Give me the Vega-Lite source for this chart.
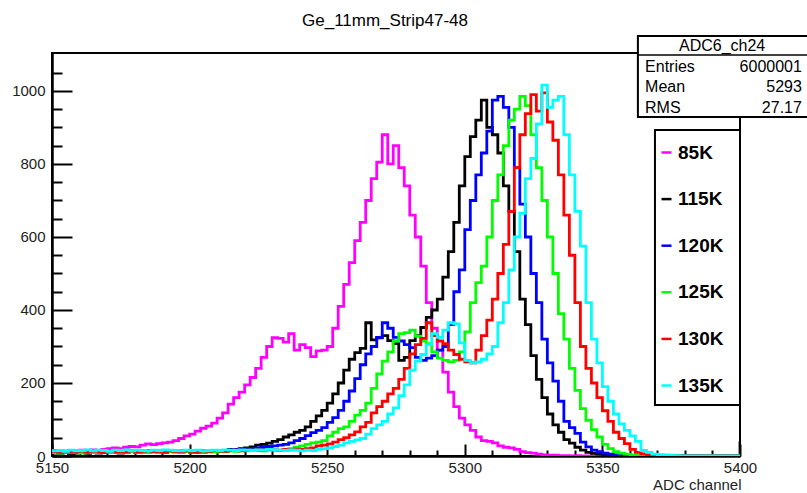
{
"$schema":"https://vega.github.io/schema/vega-lite/v6.json",
"width":688,"height":403,
"autosize":{"type":"none"},
"padding":{"left":52,"top":53,"right":67,"bottom":37},
"background":"white",
"title":{"text":"Ge_11mm_Strip47-48","font":"Liberation Sans","fontSize":17,"fontWeight":"normal","color":"black","anchor":"middle","dx":-11,"dy":13,"baseline":"alphabetic","offset":5},
"config":{"view":{"stroke":"black","strokeWidth":2},"axis":{"grid":false}},
"resolve":{"axis":{"x":"independent","y":"independent"}},
"layer":[
{"data":{"values":[
{"x":5150,"85K":15,"115K":8,"120K":10,"125K":9,"130K":12,"135K":14},
{"x":5152,"85K":14,"115K":7,"120K":12,"125K":8,"130K":10,"135K":15},
{"x":5154,"85K":12,"115K":9,"120K":9,"125K":10,"130K":13,"135K":13},
{"x":5156,"85K":15,"115K":6,"120K":11,"125K":9,"130K":11,"135K":16},
{"x":5158,"85K":13,"115K":8,"120K":13,"125K":11,"130K":12,"135K":14},
{"x":5160,"85K":16,"115K":10,"120K":10,"125K":8,"130K":14,"135K":15},
{"x":5162,"85K":14,"115K":7,"120K":12,"125K":10,"130K":11,"135K":17},
{"x":5164,"85K":17,"115K":9,"120K":11,"125K":9,"130K":13,"135K":14},
{"x":5166,"85K":15,"115K":8,"120K":14,"125K":10,"130K":12,"135K":16},
{"x":5168,"85K":18,"115K":10,"120K":12,"125K":12,"130K":10,"135K":15},
{"x":5170,"85K":20,"115K":9,"120K":13,"125K":9,"130K":14,"135K":13},
{"x":5172,"85K":22,"115K":11,"120K":11,"125K":11,"130K":12,"135K":16},
{"x":5174,"85K":20,"115K":8,"120K":14,"125K":10,"130K":13,"135K":15},
{"x":5176,"85K":24,"115K":10,"120K":12,"125K":9,"130K":11,"135K":17},
{"x":5178,"85K":26,"115K":12,"120K":13,"125K":12,"130K":14,"135K":14},
{"x":5180,"85K":25,"115K":9,"120K":15,"125K":10,"130K":12,"135K":16},
{"x":5182,"85K":30,"115K":11,"120K":12,"125K":11,"130K":13,"135K":15},
{"x":5184,"85K":33,"115K":10,"120K":14,"125K":9,"130K":15,"135K":14},
{"x":5186,"85K":31,"115K":12,"120K":13,"125K":12,"130K":12,"135K":16},
{"x":5188,"85K":34,"115K":11,"120K":15,"125K":10,"130K":13,"135K":15},
{"x":5190,"85K":36,"115K":10,"120K":14,"125K":11,"130K":11,"135K":17},
{"x":5192,"85K":38,"115K":13,"120K":12,"125K":12,"130K":14,"135K":16},
{"x":5194,"85K":42,"115K":12,"120K":15,"125K":10,"130K":13,"135K":15},
{"x":5196,"85K":48,"115K":11,"120K":14,"125K":11,"130K":12,"135K":14},
{"x":5198,"85K":55,"115K":13,"120K":13,"125K":12,"130K":14,"135K":16},
{"x":5200,"85K":60,"115K":10,"120K":12,"125K":11,"130K":13,"135K":15},
{"x":5202,"85K":68,"115K":12,"120K":10,"125K":12,"130K":12,"135K":16},
{"x":5204,"85K":76,"115K":10,"120K":14,"125K":10,"130K":14,"135K":14},
{"x":5206,"85K":82,"115K":12,"120K":12,"125K":12,"130K":13,"135K":15},
{"x":5208,"85K":90,"115K":14,"120K":13,"125K":11,"130K":15,"135K":16},
{"x":5210,"85K":104,"115K":12,"120K":15,"125K":13,"130K":14,"135K":15},
{"x":5212,"85K":118,"115K":15,"120K":14,"125K":12,"130K":13,"135K":17},
{"x":5214,"85K":142,"115K":18,"120K":16,"125K":14,"130K":15,"135K":16},
{"x":5216,"85K":160,"115K":16,"120K":18,"125K":13,"130K":16,"135K":15},
{"x":5218,"85K":175,"115K":20,"120K":17,"125K":15,"130K":14,"135K":17},
{"x":5220,"85K":195,"115K":22,"120K":20,"125K":14,"130K":16,"135K":16},
{"x":5222,"85K":215,"115K":25,"120K":20,"125K":16,"130K":15,"135K":15},
{"x":5224,"85K":240,"115K":30,"120K":22,"125K":15,"130K":17,"135K":17},
{"x":5226,"85K":270,"115K":32,"120K":24,"125K":14,"130K":16,"135K":16},
{"x":5228,"85K":300,"115K":35,"120K":26,"125K":16,"130K":18,"135K":18},
{"x":5230,"85K":324,"115K":40,"120K":28,"125K":16,"130K":17,"135K":17},
{"x":5232,"85K":322,"115K":45,"120K":30,"125K":15,"130K":16,"135K":16},
{"x":5234,"85K":312,"115K":52,"120K":32,"125K":18,"130K":18,"135K":15},
{"x":5236,"85K":335,"115K":58,"120K":36,"125K":20,"130K":17,"135K":17},
{"x":5238,"85K":290,"115K":65,"120K":42,"125K":24,"130K":19,"135K":16},
{"x":5240,"85K":305,"115K":70,"120K":48,"125K":28,"130K":18,"135K":14},
{"x":5242,"85K":297,"115K":80,"120K":56,"125K":32,"130K":20,"135K":16},
{"x":5244,"85K":272,"115K":95,"120K":64,"125K":36,"130K":22,"135K":15},
{"x":5246,"85K":288,"115K":110,"120K":70,"125K":38,"130K":28,"135K":18},
{"x":5248,"85K":290,"115K":125,"120K":78,"125K":42,"130K":30,"135K":20},
{"x":5250,"85K":300,"115K":145,"120K":92,"125K":55,"130K":33,"135K":22},
{"x":5252,"85K":350,"115K":170,"120K":105,"125K":65,"130K":38,"135K":26},
{"x":5254,"85K":410,"115K":200,"120K":125,"125K":75,"130K":45,"135K":30},
{"x":5256,"85K":470,"115K":235,"120K":150,"125K":80,"130K":50,"135K":36},
{"x":5258,"85K":530,"115K":265,"120K":178,"125K":95,"130K":58,"135K":40},
{"x":5260,"85K":590,"115K":283,"120K":212,"125K":112,"130K":66,"135K":44},
{"x":5262,"85K":640,"115K":295,"120K":250,"125K":125,"130K":80,"135K":48},
{"x":5264,"85K":700,"115K":365,"120K":280,"125K":145,"130K":92,"135K":60},
{"x":5266,"85K":760,"115K":318,"120K":300,"125K":185,"130K":118,"135K":75},
{"x":5268,"85K":805,"115K":324,"120K":325,"125K":225,"130K":135,"135K":85},
{"x":5270,"85K":880,"115K":330,"120K":365,"125K":260,"130K":150,"135K":95},
{"x":5272,"85K":800,"115K":316,"120K":350,"125K":285,"130K":170,"135K":115},
{"x":5274,"85K":850,"115K":308,"120K":325,"125K":315,"130K":185,"135K":132},
{"x":5276,"85K":790,"115K":262,"120K":315,"125K":335,"130K":210,"135K":165},
{"x":5278,"85K":740,"115K":270,"120K":305,"125K":338,"130K":240,"135K":195},
{"x":5280,"85K":660,"115K":316,"120K":297,"125K":345,"130K":280,"135K":235},
{"x":5282,"85K":600,"115K":330,"120K":270,"125K":328,"130K":305,"135K":260},
{"x":5284,"85K":520,"115K":352,"120K":262,"125K":315,"130K":322,"135K":278},
{"x":5286,"85K":420,"115K":380,"120K":268,"125K":308,"130K":365,"135K":305},
{"x":5288,"85K":350,"115K":400,"120K":275,"125K":285,"130K":330,"135K":335},
{"x":5290,"85K":290,"115K":430,"120K":290,"125K":268,"130K":315,"135K":325},
{"x":5292,"85K":230,"115K":490,"120K":300,"125K":262,"130K":308,"135K":345},
{"x":5294,"85K":175,"115K":560,"120K":360,"125K":258,"130K":290,"135K":365},
{"x":5296,"85K":135,"115K":640,"120K":450,"125K":262,"130K":278,"135K":362},
{"x":5298,"85K":104,"115K":740,"120K":510,"125K":285,"130K":265,"135K":310},
{"x":5300,"85K":85,"115K":820,"120K":620,"125K":340,"130K":258,"135K":262},
{"x":5302,"85K":70,"115K":875,"120K":700,"125K":420,"130K":255,"135K":255},
{"x":5304,"85K":52,"115K":920,"120K":770,"125K":475,"130K":290,"135K":258},
{"x":5306,"85K":42,"115K":975,"120K":830,"125K":520,"130K":330,"135K":265},
{"x":5308,"85K":40,"115K":900,"120K":890,"125K":600,"130K":372,"135K":280},
{"x":5310,"85K":36,"115K":880,"120K":975,"125K":700,"130K":430,"135K":300},
{"x":5312,"85K":28,"115K":830,"120K":985,"125K":770,"130K":500,"135K":365},
{"x":5314,"85K":24,"115K":740,"120K":955,"125K":850,"130K":580,"135K":420},
{"x":5316,"85K":22,"115K":670,"120K":900,"125K":920,"130K":670,"135K":510},
{"x":5318,"85K":18,"115K":560,"120K":790,"125K":950,"130K":790,"135K":600},
{"x":5320,"85K":12,"115K":430,"120K":690,"125K":985,"130K":880,"135K":665},
{"x":5322,"85K":9,"115K":360,"120K":600,"125K":960,"130K":938,"135K":760},
{"x":5324,"85K":8,"115K":275,"120K":500,"125K":880,"130K":990,"135K":815},
{"x":5326,"85K":5,"115K":210,"120K":420,"125K":790,"130K":945,"135K":910},
{"x":5328,"85K":3,"115K":160,"120K":320,"125K":700,"130K":995,"135K":1016},
{"x":5330,"85K":2,"115K":115,"120K":255,"125K":600,"130K":915,"135K":955},
{"x":5332,"85K":2,"115K":85,"120K":205,"125K":500,"130K":865,"135K":975},
{"x":5334,"85K":1,"115K":65,"120K":150,"125K":390,"130K":770,"135K":985},
{"x":5336,"85K":1,"115K":45,"120K":95,"125K":320,"130K":660,"135K":880},
{"x":5338,"85K":0,"115K":35,"120K":78,"125K":240,"130K":550,"135K":770},
{"x":5340,"85K":1,"115K":24,"120K":62,"125K":180,"130K":420,"135K":670},
{"x":5342,"85K":0,"115K":16,"120K":38,"125K":130,"130K":300,"135K":575},
{"x":5344,"85K":0,"115K":10,"120K":25,"125K":98,"130K":240,"135K":420},
{"x":5346,"85K":0,"115K":7,"120K":16,"125K":72,"130K":200,"135K":320},
{"x":5348,"85K":0,"115K":5,"120K":12,"125K":52,"130K":160,"135K":255},
{"x":5350,"85K":0,"115K":3,"120K":8,"125K":32,"130K":124,"135K":190},
{"x":5352,"85K":0,"115K":2,"120K":5,"125K":20,"130K":95,"135K":150},
{"x":5354,"85K":0,"115K":1,"120K":3,"125K":12,"130K":65,"135K":115},
{"x":5356,"85K":0,"115K":1,"120K":2,"125K":8,"130K":48,"135K":88},
{"x":5358,"85K":0,"115K":0,"120K":1,"125K":5,"130K":34,"135K":70},
{"x":5360,"85K":0,"115K":0,"120K":0,"125K":3,"130K":18,"135K":55},
{"x":5362,"85K":0,"115K":0,"120K":0,"125K":2,"130K":10,"135K":40},
{"x":5364,"85K":0,"115K":0,"120K":0,"125K":1,"130K":6,"135K":15},
{"x":5366,"85K":0,"115K":0,"120K":0,"125K":0,"130K":3,"135K":10},
{"x":5368,"85K":0,"115K":0,"120K":0,"125K":0,"130K":2,"135K":5},
{"x":5370,"85K":0,"115K":0,"120K":0,"125K":0,"130K":1,"135K":4},
{"x":5372,"85K":0,"115K":0,"120K":0,"125K":0,"130K":0,"135K":3},
{"x":5374,"85K":0,"115K":0,"120K":0,"125K":0,"130K":0,"135K":2},
{"x":5376,"85K":0,"115K":0,"120K":0,"125K":0,"130K":0,"135K":1},
{"x":5378,"85K":0,"115K":0,"120K":0,"125K":0,"130K":0,"135K":0},
{"x":5380,"85K":0,"115K":0,"120K":0,"125K":0,"130K":0,"135K":0},
{"x":5382,"85K":0,"115K":0,"120K":0,"125K":0,"130K":0,"135K":0},
{"x":5384,"85K":0,"115K":0,"120K":0,"125K":0,"130K":0,"135K":0},
{"x":5386,"85K":0,"115K":0,"120K":0,"125K":0,"130K":0,"135K":0},
{"x":5388,"85K":0,"115K":0,"120K":0,"125K":0,"130K":0,"135K":0},
{"x":5390,"85K":0,"115K":0,"120K":0,"125K":0,"130K":0,"135K":0},
{"x":5392,"85K":0,"115K":0,"120K":0,"125K":0,"130K":0,"135K":0},
{"x":5394,"85K":0,"115K":0,"120K":0,"125K":0,"130K":0,"135K":0},
{"x":5396,"85K":0,"115K":0,"120K":0,"125K":0,"130K":0,"135K":0},
{"x":5398,"85K":0,"115K":0,"120K":0,"125K":0,"130K":0,"135K":0},
{"x":5400,"85K":0,"115K":40,"120K":0,"125K":0,"130K":0,"135K":0}
]},
"transform":[{"fold":["85K","115K","120K","125K","130K","135K"],"as":["key","value"]}],
"mark":{"type":"line","interpolate":"step-after","strokeWidth":2.8,"clip":true},
"encoding":{
"x":{"field":"x","type":"quantitative","scale":{"domain":[5150,5400],"nice":false,"zero":false},
"axis":{"orient":"bottom","values":[5150,5200,5250,5300,5350,5400],"format":"d","ticks":false,"domainColor":"black","domainWidth":2.5,"labelFont":"Liberation Sans","labelFontSize":15,"labelColor":"#222","labelPadding":4,"labelFlush":false,"labelOverlap":false,"title":"ADC channel","titleFont":"Liberation Sans","titleFontSize":15,"titleFontWeight":"normal","titleColor":"#222","titleAnchor":"end","titleAlign":"right","titleBaseline":"alphabetic","titleX":689,"titleY":33}},
"y":{"field":"value","type":"quantitative","scale":{"domain":[0,1104],"nice":false},
"axis":{"orient":"left","values":[0,200,400,600,800,1000],"format":"d","ticks":false,"domainColor":"black","domainWidth":2.5,"labelFont":"Liberation Sans","labelFontSize":15,"labelColor":"#222","labelPadding":7,"labelFlush":false,"labelOverlap":false,"title":null}},
"color":{"field":"key","type":"nominal","sort":["85K","115K","120K","125K","130K","135K"],
"scale":{"domain":["85K","115K","120K","125K","130K","135K"],"range":["#ff00ff","#000000","#0000ff","#00ff00","#ff0000","#00ffff"]},
"legend":{"orient":"none","legendX":605,"legendY":90,"title":null,"symbolType":"stroke","symbolSize":100,"symbolStrokeWidth":2.5,"labelFont":"Liberation Sans","labelFontSize":19,"labelFontWeight":"bold","labelColor":"black","labelOffset":2,"rowPadding":26.6,"padding":0}}
}},
{"data":{"values":[{}]},"mark":{"type":"point","opacity":0},
"encoding":{
"x":{"datum":5150,"type":"quantitative","axis":{"orient":"bottom","values":[5150,5200,5250,5300,5350,5400],"labels":false,"domain":false,"ticks":true,"tickSize":-12,"tickWidth":2,"tickColor":"black","title":null}},
"y":{"datum":0,"type":"quantitative","axis":{"orient":"left","values":[0,200,400,600,800,1000],"labels":false,"domain":false,"ticks":true,"tickSize":-20,"tickWidth":2,"tickColor":"black","title":null}}}},
{"data":{"values":[{}]},"mark":{"type":"point","opacity":0},
"encoding":{
"x":{"datum":5150,"type":"quantitative","axis":{"orient":"bottom","values":[5160,5170,5180,5190,5210,5220,5230,5240,5260,5270,5280,5290,5310,5320,5330,5340,5360,5370,5380,5390],"labels":false,"domain":false,"ticks":true,"tickSize":-6,"tickWidth":2,"tickColor":"black","title":null}},
"y":{"datum":0,"type":"quantitative","axis":{"orient":"left","values":[50,100,150,250,300,350,450,500,550,650,700,750,850,900,950,1050],"labels":false,"domain":false,"ticks":true,"tickSize":-10,"tickWidth":2,"tickColor":"black","title":null}}}},
{"data":{"values":[{}]},"mark":{"type":"rect","fill":"white","stroke":"black","strokeWidth":2,"clip":false},
"encoding":{"x":{"datum":5369.1,"type":"quantitative","axis":null},"x2":{"datum":5400},"y":{"datum":893.2,"type":"quantitative","axis":null},"y2":{"datum":139.7}}},
{"data":{"values":[{}]},"mark":{"type":"rect","fill":"white","stroke":"black","strokeWidth":2,"clip":false},
"encoding":{"x":{"datum":5362.9,"type":"quantitative","axis":null},"x2":{"datum":5426},"y":{"datum":1150.7,"type":"quantitative","axis":null},"y2":{"datum":928.8}}},
{"data":{"values":[{}]},"mark":{"type":"rule","stroke":"black","strokeWidth":1.5,"clip":false},
"encoding":{"x":{"datum":5362.9,"type":"quantitative","axis":null},"x2":{"datum":5426},"y":{"datum":1098.6,"type":"quantitative","axis":null}}},
{"data":{"values":[{}]},"mark":{"type":"text","text":"ADC6_ch24","font":"Liberation Sans","fontSize":16,"align":"center","baseline":"alphabetic","color":"black","clip":false},
"encoding":{"x":{"datum":5393.5,"type":"quantitative","axis":null},"y":{"datum":1109.6,"type":"quantitative","axis":null}}},
{"data":{"values":[{}]},"mark":{"type":"text","text":"Entries","font":"Liberation Sans","fontSize":16,"align":"left","baseline":"alphabetic","color":"black","clip":false},
"encoding":{"x":{"datum":5365.5,"type":"quantitative","axis":null},"y":{"datum":1052,"type":"quantitative","axis":null}}},
{"data":{"values":[{}]},"mark":{"type":"text","text":"6000001","font":"Liberation Sans","fontSize":16,"align":"right","baseline":"alphabetic","color":"black","clip":false},
"encoding":{"x":{"datum":5422.5,"type":"quantitative","axis":null},"y":{"datum":1052,"type":"quantitative","axis":null}}},
{"data":{"values":[{}]},"mark":{"type":"text","text":"Mean","font":"Liberation Sans","fontSize":16,"align":"left","baseline":"alphabetic","color":"black","clip":false},
"encoding":{"x":{"datum":5365.5,"type":"quantitative","axis":null},"y":{"datum":997.3,"type":"quantitative","axis":null}}},
{"data":{"values":[{}]},"mark":{"type":"text","text":"5293","font":"Liberation Sans","fontSize":16,"align":"right","baseline":"alphabetic","color":"black","clip":false},
"encoding":{"x":{"datum":5422.5,"type":"quantitative","axis":null},"y":{"datum":997.3,"type":"quantitative","axis":null}}},
{"data":{"values":[{}]},"mark":{"type":"text","text":"RMS","font":"Liberation Sans","fontSize":16,"align":"left","baseline":"alphabetic","color":"black","clip":false},
"encoding":{"x":{"datum":5365.5,"type":"quantitative","axis":null},"y":{"datum":939.7,"type":"quantitative","axis":null}}},
{"data":{"values":[{}]},"mark":{"type":"text","text":"27.17","font":"Liberation Sans","fontSize":16,"align":"right","baseline":"alphabetic","color":"black","clip":false},
"encoding":{"x":{"datum":5422.5,"type":"quantitative","axis":null},"y":{"datum":939.7,"type":"quantitative","axis":null}}}
]
}
